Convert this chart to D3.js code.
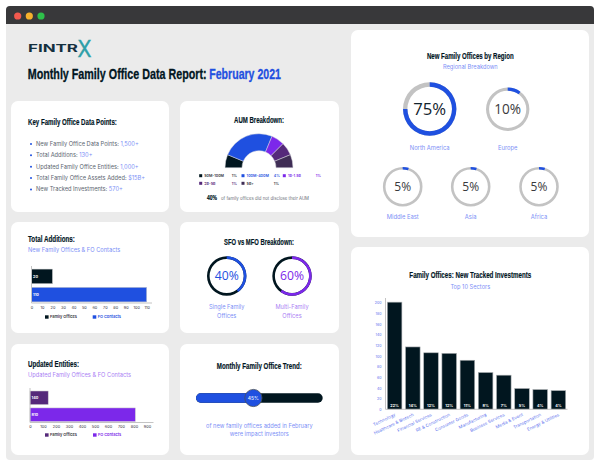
<!DOCTYPE html>
<html>
<head>
<meta charset="utf-8">
<script src="https://cdn.jsdelivr.net/npm/d3@7"></script>
<style>
  html, body { margin: 0; padding: 0; background: #fff; }
  svg { display: block; }
  text { font-family: "Inter", "Noto Sans", sans-serif; }
  .head { font-family: "Liberation Sans Narrow", "Liberation Sans", sans-serif; font-weight: 700; }
  .num { font-family: "Open Sans", sans-serif; }
  .axis .domain { stroke: #c4c4c4; stroke-width: 1; }
  .axis line { display: none; }
</style>
</head>
<body>
<div id="chart"></div>
<script>
// values
const keyLabels = ["New Family Office Data Points: ", "Total Additions: ", "Updated Family Office Entities: ", "Total Family Office Assets Added: ", "New Tracked Investments: "];
const keyValues = ["1,500+", "130+", "1,000+", "$15B+", "570+"];

const aumLabels = ["50M-100M", "100M-400M", "1B-1.5B", "2B-5B", "5B+"];
const aumValues = [1, 4, 1, 1, 1];
const aumColors = ["#01161f", "#1f50e0", "#7c28ea", "#55297a", "#3f2d55"];

const additionLabels = ["Family Offices", "FO Contacts"];
const additionValues = [20, 110];
const additionTicks = [0, 10, 20, 30, 40, 50, 60, 70, 80, 90, 100, 110];

const updatedLabels = ["Family Offices", "FO Contacts"];
const updatedValues = [140, 810];
const updatedTicks = [0, 100, 200, 300, 400, 500, 600, 700, 800, 900];

const regionLabels = ["North America", "Europe", "Middle East", "Asia", "Africa"];
const regionValues = [75, 10, 5, 5, 5];

const sectorLabels = ["Technology", "Healthcare & Biotech", "Financial Services", "RE & Construction", "Consumer Goods", "Manufacturing", "Business Services", "Media & Event", "Transportation", "Energy & Utilities"];
const sectorValues = [201, 117, 106, 105, 92, 69, 64, 39, 37, 35];
const sectorShares = ["22%", "14%", "12%", "12%", "11%", "8%", "7%", "5%", "4%", "4%"];
const sectorTicks = [0, 20, 40, 60, 80, 100, 120, 140, 160, 180, 200];

const NAVY = "#01161f", BLUE = "#1f50e0", PURPLE = "#7c28ea", PLUM = "#55297a";
const LINK = "#7d90f6", LILAC = "#ab82f4";

const svg = d3.select("#chart").append("svg").attr("width", 600).attr("height", 466);

// window frame
svg.append("rect").attr("x", 6).attr("y", 6).attr("width", 588).attr("height", 454).attr("rx", 4).attr("fill", "#ebebeb");
svg.append("path").attr("d", "M6 24V10a4 4 0 0 1 4-4H590a4 4 0 0 1 4 4V24Z").attr("fill", "#38383a");
[[17.7, "#f2594e"], [29.3, "#f6b02c"], [41, "#2ec04a"]].forEach(d => {
    svg.append("circle").attr("cx", d[0]).attr("cy", 16).attr("r", 3.6).attr("fill", d[1]);
});

// cards
[[11, 101, 158, 111], [180, 101, 159, 111], [11, 222, 158, 111], [180, 222, 159, 111],
 [11, 344, 158, 111], [180, 344, 159, 111], [351, 30, 238, 207], [351, 247, 238, 208]].forEach(c => {
    svg.append("rect").attr("x", c[0]).attr("y", c[1]).attr("width", c[2]).attr("height", c[3])
        .attr("rx", 7).attr("fill", "#fff");
});

// heading squeezed to the width it has in the report
function head(txt, x, y, size, width, anchor, color) {
    const t = svg.append("text").attr("class", "head")
        .attr("font-size", size)
        .attr("text-anchor", anchor || "start")
        .attr("fill", color || NAVY)
        .attr("stroke", color || NAVY).attr("stroke-width", size > 12 ? 0.3 : 0.18)
        .text(txt);
    const k = width / t.node().getComputedTextLength();
    t.attr("transform", `translate(${x},${y + size * 0.35}) scale(${k},1)`);
    return t;
}

function label(txt, x, y, size, color, anchor, weight) {
    return svg.append("text")
        .attr("x", x).attr("y", y + size * 0.35)
        .attr("font-size", size)
        .attr("fill", color)
        .attr("text-anchor", anchor || "middle")
        .attr("font-weight", weight || 400)
        .text(txt);
}

// logo
const logoText = svg.append("text").attr("font-size", 10).attr("font-weight", 700)
    .attr("font-family", "Liberation Sans").attr("fill", "#14303f").text("FINTR");
logoText.attr("transform", `translate(28,52) scale(${50 / logoText.node().getComputedTextLength()},1)`);
const logoX = svg.append("text").attr("font-size", 23).attr("font-weight", 400)
    .attr("font-family", "Liberation Sans").attr("fill", "#2e9fa8").attr("stroke", "#2e9fa8").attr("stroke-width", 0.4).text("X");
logoX.attr("transform", `translate(77.5,56.5) scale(${14 / logoX.node().getComputedTextLength()},1)`);

head("Monthly Family Office Data Report:", 27.7, 73.7, 14.5, 179);
head("February 2021", 209.3, 73.7, 14.5, 71.7, "start", BLUE);

// key data points
head("Key Family Office Data Points:", 28, 121.7, 9.5, 89);
keyLabels.forEach((d, i) => {
    const y = 144 + i * 11.35;
    svg.append("circle").attr("cx", 31).attr("cy", y).attr("r", 1).attr("fill", BLUE);
    const t = label("", 36, y, 5.7, "#5c6670", "start");
    t.append("tspan").text(d);
    t.append("tspan").attr("fill", LINK).text(keyValues[i]);
});

// AUM half donut
head("AUM Breakdown:", 259, 119.7, 9.5, 50, "middle");
const aumPie = d3.pie().sort(null).startAngle(-Math.PI / 2).endAngle(Math.PI / 2)(aumValues);
const aumArc = d3.arc().innerRadius(17).outerRadius(34);
svg.append("g").attr("transform", "translate(259,167.7)")
    .selectAll("path").data(aumPie).enter().append("path")
    .attr("d", aumArc)
    .attr("fill", (d, i) => aumColors[i])
    .attr("stroke", "#d8d8de").attr("stroke-width", 0.5);

const aumLegendPos = [[200.7, 175.7, 231.7], [243, 175.7, 273.7], [284.3, 175.7, 315.7], [200.7, 183.3, 231.7], [243, 183.3, 273.7]];
aumLabels.forEach((d, i) => {
    const p = aumLegendPos[i];
    const c = i === 0 || i === 4 ? "#33333a" : aumColors[i];
    svg.append("rect").attr("x", p[0] - 1.5).attr("y", p[1] - 1.5).attr("width", 3).attr("height", 3).attr("fill", aumColors[i]);
    label(d, p[0] + 3.6, p[1], 3.7, c, "start", 600);
    label(aumValues[i] + "%", p[2], p[1], 3.7, c, "start", 600);
});
head("40%", 207, 198, 6.5, 10);
label("of family offices did not disclose their AUM", 221, 198, 4.3, "#6b6f78", "start").attr("textLength", 88);

// horizontal bar panels
function hbars(opts) {
    const x = d3.scaleLinear().domain([0, opts.max]).range([opts.x0, opts.x1]);
    const y = d3.scaleBand().domain(opts.labels).range([opts.y0, opts.y1]).paddingInner(0.2).paddingOuter(0.06);
    const g = svg.append("g");
    g.selectAll("rect").data(opts.values).enter().append("rect")
        .attr("x", x(0)).attr("y", (d, i) => y(opts.labels[i]))
        .attr("width", d => x(d) - x(0)).attr("height", y.bandwidth())
        .attr("fill", (d, i) => opts.colors[i])
        .attr("stroke", "#c9c9c9").attr("stroke-width", 0.5);
    g.selectAll("text").data(opts.values).enter().append("text")
        .attr("x", x(0) + 1.5).attr("y", (d, i) => y(opts.labels[i]) + y.bandwidth() / 2 + 1.3)
        .attr("font-size", 3.8).attr("font-weight", 700).attr("fill", "#fff").text(d => d);

    const axis = svg.append("g").attr("class", "axis")
        .attr("transform", `translate(0,${opts.y1})`)
        .call(d3.axisBottom(x).tickValues(opts.ticks).tickSize(0).tickPadding(3));
    axis.select(".domain").attr("d", `M${opts.x0},0H${opts.axisEnd}`);
    axis.selectAll("text").attr("font-size", 3.9).attr("fill", "#33333a");
    svg.append("line").attr("x1", opts.x0).attr("x2", opts.x0).attr("y1", opts.y0 - 2).attr("y2", opts.y1)
        .attr("stroke", "#c4c4c4").attr("stroke-width", 1);

    opts.legend.forEach((lx, i) => {
        svg.append("rect").attr("x", lx).attr("y", opts.legendY - 1.7).attr("width", 3.6).attr("height", 3.4).attr("fill", opts.colors[i]);
        label(opts.labels[i], lx + 5, opts.legendY, 3.9, i === 0 ? "#33333a" : opts.colors[1], "start", 600);
    });
}

head("Total Additions:", 28, 239, 9.5, 47);
label("New Family Offices & FO Contacts", 28, 250, 5.7, LINK, "start");
hbars({ labels: additionLabels, values: additionValues, ticks: additionTicks, max: 110,
        colors: [NAVY, BLUE], x0: 31.5, x1: 146.7, axisEnd: 152, y0: 268, y1: 303, legend: [45, 92.7], legendY: 317 });

head("Updated Entities:", 28, 364, 9.5, 51);
label("Updated Family Offices & FO Contacts", 28, 375.3, 5.7, LILAC, "start");
hbars({ labels: updatedLabels, values: updatedValues, ticks: updatedTicks, max: 900,
        colors: [PLUM, PURPLE], x0: 30, x1: 147, axisEnd: 153.5, y0: 390, y1: 422.5, legend: [45, 93], legendY: 435 });

// progress rings
function ring(cx, cy, r, w, value, track, color, size, textColor) {
    const g = svg.append("g").attr("transform", `translate(${cx},${cy})`);
    const a = d3.arc().innerRadius(r - w).outerRadius(r);
    g.append("path").attr("d", a({ startAngle: 0, endAngle: 2 * Math.PI })).attr("fill", track);
    g.append("path").attr("d", a({ startAngle: 0, endAngle: 2 * Math.PI * value / 100 })).attr("fill", color);
    g.append("text").attr("class", "num").attr("text-anchor", "middle").attr("y", size * 0.36)
        .attr("font-size", size).attr("fill", textColor).text(value + "%");
}

head("SFO vs MFO Breakdown:", 259, 242.3, 8.5, 70, "middle");
ring(226.7, 276, 19.7, 2.6, 40, NAVY, BLUE, 12.2, BLUE);
ring(292, 276, 19.7, 2.6, 60, NAVY, PURPLE, 12.2, PURPLE);
label("Single Family", 226.7, 306.7, 5.7, LINK);
label("Offices", 226.7, 315.8, 5.7, LINK);
label("Multi-Family", 292, 306.7, 5.7, LILAC);
label("Offices", 292, 315.8, 5.7, LILAC);

// trend slider
head("Monthly Family Office Trend:", 259.3, 366.3, 9, 85, "middle");
const trendValue = 45;
const trendX = d3.scaleLinear().domain([0, 100]).range([200.5, 318]);
svg.append("rect").attr("x", 196).attr("y", 393.3).attr("width", 126.7).attr("height", 9.4).attr("rx", 4.7).attr("fill", NAVY);
svg.append("path").attr("d", `M${trendX(trendValue)} 393.3H200.7a4.7 4.7 0 0 0 0 9.4H${trendX(trendValue)}Z`).attr("fill", BLUE);
svg.append("circle").attr("cx", trendX(trendValue)).attr("cy", 398).attr("r", 8.6).attr("fill", BLUE).attr("stroke", "#47505c").attr("stroke-width", 0.8);
label(trendValue + "%", trendX(trendValue), 398, 4.8, "#dfe4fb", "middle", 600);
label("of new family offices added in February", 259.3, 425.7, 5.7, LINK);
label("were impact investors", 259.3, 434.3, 5.7, LINK);

// regions
head("New Family Offices by Region", 470.3, 56, 8.5, 87, "middle");
label("Regional Breakdown", 470.3, 67, 5.7, LINK);
const regionRings = [[429.7, 109, 26.7, 4.4, 16.7], [507.7, 109.3, 21.7, 3.1, 13.6], [402.7, 186.7, 19.8, 2.6, 12], [470.7, 186.7, 19.8, 2.6, 12], [539, 186.7, 19.8, 2.6, 12]];
const regionLabelY = [148, 148, 216.7, 216.7, 216.7];
regionValues.forEach((v, i) => {
    const r = regionRings[i];
    ring(r[0], r[1], r[2], r[3], v, "#c3c3c3", BLUE, r[4], i === 0 ? "#12232d" : "#3a3a3c");
    label(regionLabels[i], r[0], regionLabelY[i], 5.8, LINK);
});

// tracked investments
head("Family Offices: New Tracked Investments", 470.3, 275, 9.5, 122, "middle");
label("Top 10 Sectors", 470.3, 287.3, 5.7, LINK);
const secX = d3.scaleBand().domain(sectorLabels).range([385.5, 567.5]).paddingInner(0.2).paddingOuter(0.1);
const secY = d3.scaleLinear().domain([0, 200]).range([409.3, 302.7]);

svg.selectAll(".sector").data(sectorValues).enter().append("rect")
    .attr("class", "sector")
    .attr("x", (d, i) => secX(sectorLabels[i])).attr("y", d => secY(d))
    .attr("width", secX.bandwidth()).attr("height", d => secY(0) - secY(d))
    .attr("fill", NAVY).attr("stroke", "#a9adb0").attr("stroke-width", 0.6);
svg.selectAll(".share").data(sectorShares).enter().append("text")
    .attr("class", "share")
    .attr("x", (d, i) => secX(sectorLabels[i]) + secX.bandwidth() / 2).attr("y", 407)
    .attr("text-anchor", "middle").attr("font-size", 3.8).attr("font-weight", 700).attr("fill", "#fff").text(d => d);

const secAxisX = svg.append("g").attr("class", "axis").attr("transform", "translate(0,409.3)")
    .call(d3.axisBottom(secX).tickSize(0).tickPadding(3));
secAxisX.select(".domain").attr("d", "M385.5,0H567.5");
secAxisX.selectAll("text")
    .attr("font-size", 4.4).attr("fill", "#5a70ee")
    .attr("text-anchor", "end").attr("x", 0).attr("y", 0).attr("dy", "0.35em")
    .attr("transform", "translate(0.5,5) rotate(-26)");

const secAxisY = svg.append("g").attr("class", "axis").attr("transform", "translate(385.5,0)")
    .call(d3.axisLeft(secY).tickValues(sectorTicks).tickSize(0).tickPadding(4));
secAxisY.select(".domain").attr("d", "M0,298V409.3");
secAxisY.selectAll("text").attr("font-size", 3.6).attr("fill", "#5a70ee");
</script>
</body>
</html>
